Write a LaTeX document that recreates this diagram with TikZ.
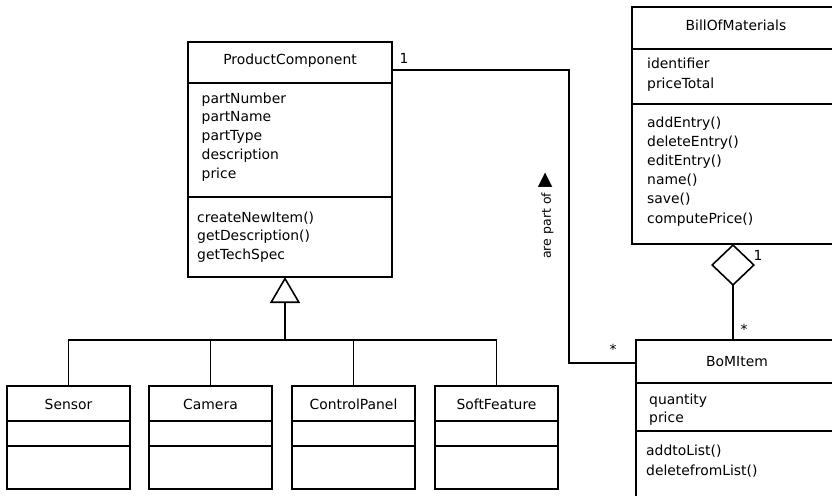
\documentclass[tikz,border=0pt]{standalone}
\usepackage{fontspec}
\setmainfont{DejaVu Sans}
\usetikzlibrary{arrows.meta}
\begin{document}
\begin{tikzpicture}[x=1pt,y=-1pt]
\tikzset{
 cbox/.style={draw, line width=1.6pt, inner sep=0pt, outer sep=0pt, anchor=north west},
 txt/.style={anchor=base west, inner sep=0pt, font=\fontsize{13.9}{16}\selectfont},
 ttl/.style={anchor=base, inner sep=0pt, font=\fontsize{13.9}{16}\selectfont},
 mult/.style={inner sep=0pt, font=\fontsize{13.9}{16}\selectfont},
 wire/.style={line width=1.6pt},
 sep/.style={line width=1.6pt},
}
\useasboundingbox (0,0) rectangle (832,495);
\clip (0,0) rectangle (832,495);

% ProductComponent
\node[cbox, minimum width=204pt, minimum height=235pt] (pc) at (188,42) {};
\draw[sep] (pc.west |- 0,83) -- (pc.east |- 0,83);
\draw[sep] (pc.west |- 0,197) -- (pc.east |- 0,197);
\node[ttl] (pcname) at (290,65) {ProductComponent};
\foreach \t [count=\i] in {partNumber,partName,partType,description,price}
  \node[txt] (pca\i) at (201.5,{103+18.8*(\i-1)}) {\t};
\foreach \t [count=\i] in {createNewItem(),getDescription(),getTechSpec}
  \node[txt] (pcm\i) at (197,{222+18.5*(\i-1)}) {\t};

% BillOfMaterials
\node[cbox, minimum width=212pt, minimum height=237pt] (bom) at (632,7) {};
\draw[sep] (bom.west |- 0,49) -- (bom.east |- 0,49);
\draw[sep] (bom.west |- 0,104) -- (bom.east |- 0,104);
\node[ttl] (bomname) at (736,31) {BillOfMaterials};
\foreach \t [count=\i] in {identifier,priceTotal}
  \node[txt] (boma\i) at (647,{69+19.2*(\i-1)}) {\t};
\foreach \t [count=\i] in {addEntry(),deleteEntry(),editEntry(),name(),save(),computePrice()}
  \node[txt] (bomm\i) at (647,{127.5+19.1*(\i-1)}) {\t};

% BoMItem
\node[cbox, minimum width=212pt, minimum height=170pt] (item) at (636,340) {};
\draw[sep] (item.west |- 0,383) -- (item.east |- 0,383);
\draw[sep] (item.west |- 0,431) -- (item.east |- 0,431);
\node[ttl] (itemname) at (737,366) {BoMItem};
\node[txt] (itema1) at (649,404) {quantity};
\node[txt] (itema2) at (649,422.5) {price};
\node[txt] (itemm1) at (646,455) {addtoList()};
\node[txt] (itemm2) at (646,475) {deletefromList()};

% subclasses
\foreach \n/\x/\t in {sensor/7/Sensor,camera/149/Camera,cp/292/ControlPanel,sf/435/SoftFeature}{
  \node[cbox, minimum width=123pt, minimum height=103pt] (\n) at (\x,386) {};
  \draw[sep] (\n.west |- 0,421) -- (\n.east |- 0,421);
  \draw[sep] (\n.west |- 0,446) -- (\n.east |- 0,446);
  \node[ttl] (\n name) at (\x+61.5,409) {\t};
}

% generalization
\coordinate (gen) at (285,340);
\foreach \n in {sensor,camera,cp,sf}
  \draw[wire] (\n.north) |- (gen);
\draw[wire, -{Triangle[open, length=26pt, width=30pt, line width=1.6pt]}] (gen) -- (gen |- pc.south);

% association ProductComponent -- BoMItem
\coordinate (a1) at (pc.east |- 0,70);
\coordinate (a2) at (item.west |- 0,363);
\coordinate (acol) at (569,0);
\draw[wire] (a1) -| (acol |- a2) -- (a2);
\node[mult] (m1) at (404,58) {1};
\node[mult] (m2) at (613,349) {*};
\node[rotate=90, inner sep=0pt, font=\fontsize{12.5}{14}\selectfont] (lbl) at (546,216)
  {are part of\hspace{5pt}{\fontsize{19}{19}\selectfont ▶}};

% aggregation
\coordinate (dcol) at (733,0);
\draw[wire, {Diamond[open, length=42pt, width=44pt, line width=1.6pt]}-] (dcol |- bom.south) -- (dcol |- item.north);
\node[mult] (m3) at (758,255) {1};
\node[mult] (m4) at (744,329) {*};
\end{tikzpicture}
\end{document}
